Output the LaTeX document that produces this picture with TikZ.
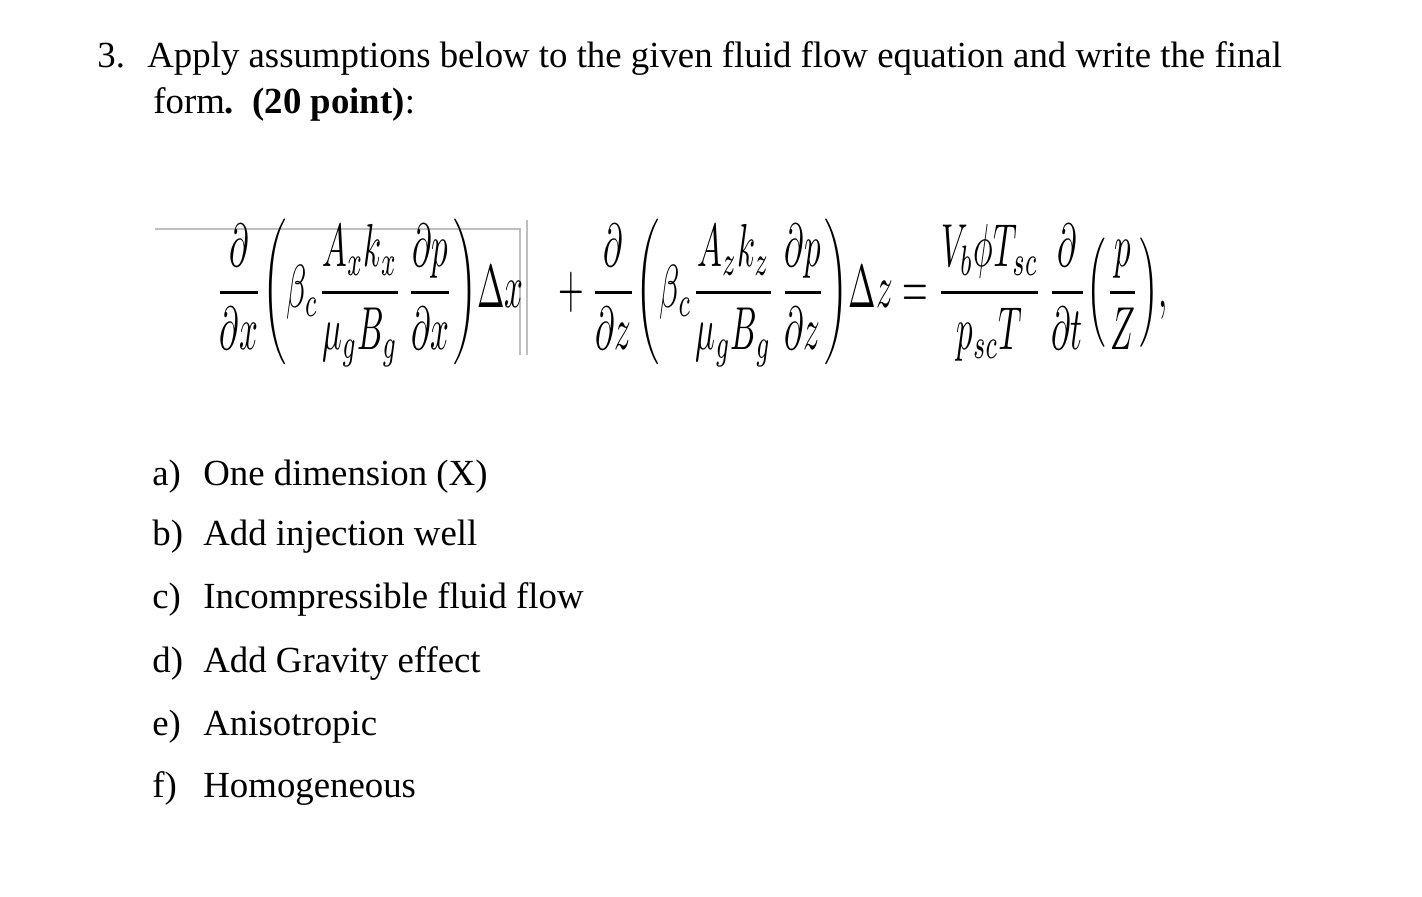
\documentclass[tikz,border=0pt]{standalone}
\usepackage{amsmath}
\usepackage{fontspec}
\setmainfont{Liberation Serif}
\begin{document}
\begin{tikzpicture}[x=0.5pt,y=-0.5pt,
  txt/.style={anchor=base west,inner sep=0pt,font=\fontsize{18.4}{21}\selectfont},
  rule/.style={draw=black!25,line width=0.6pt}]
\useasboundingbox (0,0) rectangle (1422,896);
\node[txt] (n3) at (97,67) {3.};
\node[txt] (t1) at (147,67) {Apply assumptions below to the given fluid flow equation and write the final};
\node[txt] (t2) at (153,113) {form\textbf{.\ \ (20 point)}:};
\draw[rule] (155,229) -- (520,229) -- (520,355);
\draw[rule] (527,220) -- (527,355);
\node[inner sep=0pt,anchor=center] (eq) at (692,293) {\resizebox{476pt}{44pt}{$\displaystyle
\frac{\partial}{\partial x}\!\left(\beta_c\frac{A_xk_x}{\mu_gB_g}\,\frac{\partial p}{\partial x}\right)\!\Delta x
\;\;\;+\frac{\partial}{\partial z}\!\left(\beta_c\frac{A_zk_z}{\mu_gB_g}\,\frac{\partial p}{\partial z}\right)\!\Delta z
=\frac{V_b\phi T_{sc}}{p_{sc}T}\,\frac{\partial}{\partial t}\!\left(\frac{p}{Z}\right)\!,$}};
\foreach \l/\t/\y [count=\i] in {a)/One dimension (X)/485, b)/Add injection well/545, c)/Incompressible fluid flow/608, d)/Add Gravity effect/672, e)/Anisotropic/735, f)/Homogeneous/797}{
  \node[txt] (l\i) at (152,\y) {\l};
  \node[txt] (i\i) at (203,\y) {\t};
}
\end{tikzpicture}
\end{document}
